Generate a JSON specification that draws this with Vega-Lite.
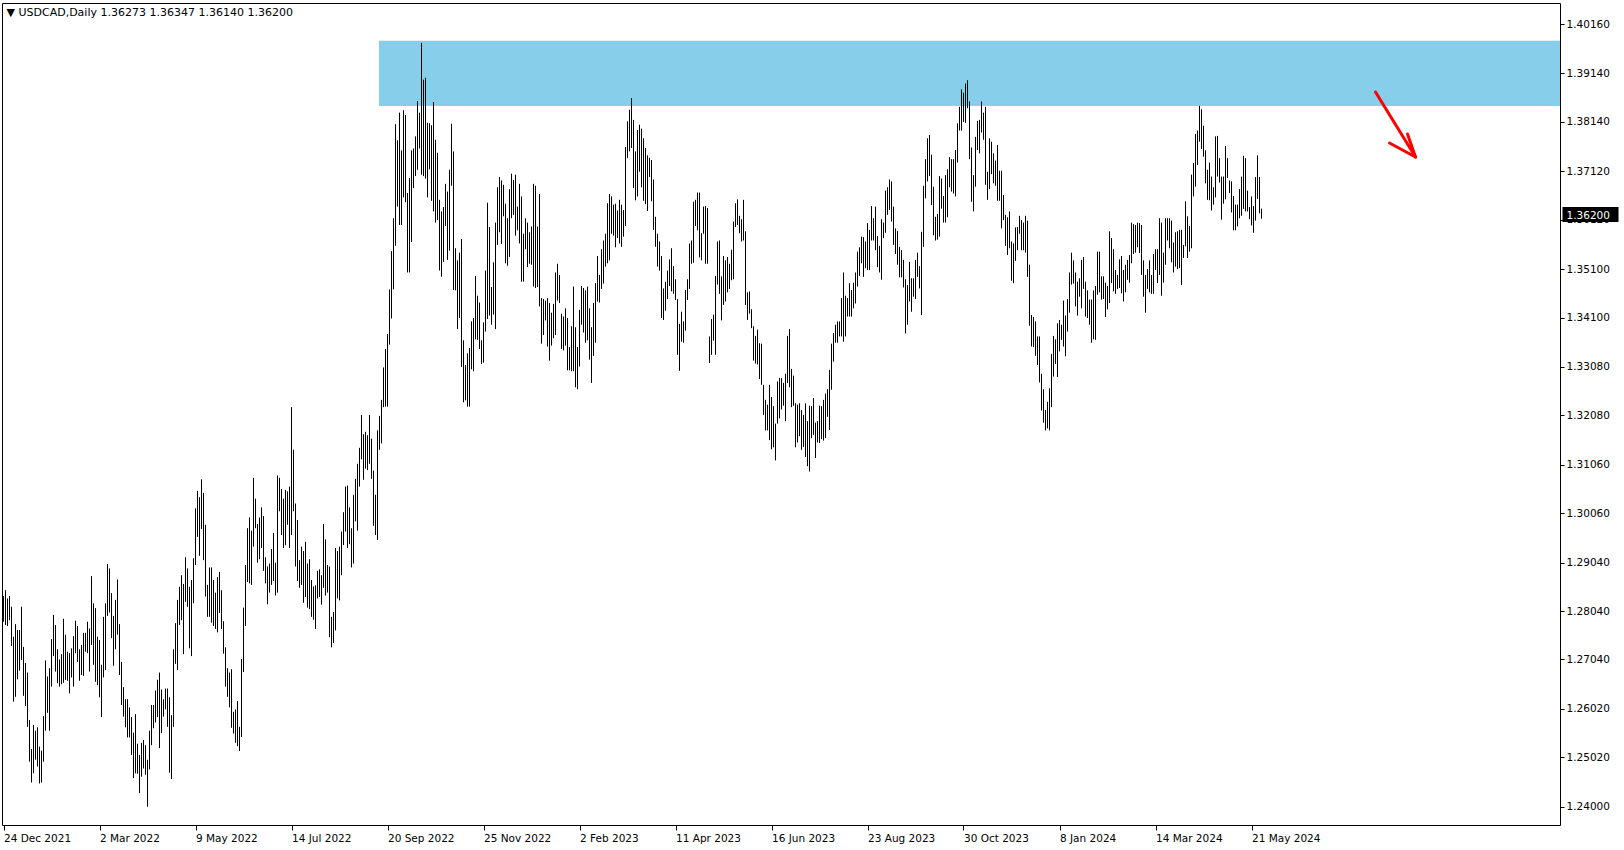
{
"$schema":"https://vega.github.io/schema/vega-lite/v6.json",
"width":1558,"height":822,
"autosize":{"type":"none"},
"padding":{"left":2,"top":3,"right":64,"bottom":25},
"background":"white",
"config":{"view":{"stroke":"black","strokeWidth":1},"font":"DejaVu Sans"},
"encoding":{
"x":{"field":"n","type":"quantitative","scale":{"domain":[0.25,779.25],"nice":false,"zero":false},
"axis":{"orient":"bottom","title":null,"grid":false,"domain":false,"values":[1,49,97,145,193,241,289,337,385,433,481,529,577,625],
"labelExpr":"['24 Dec 2021','2 Mar 2022','9 May 2022','14 Jul 2022','20 Sep 2022','25 Nov 2022','2 Feb 2023','11 Apr 2023','16 Jun 2023','23 Aug 2023','30 Oct 2023','8 Jan 2024','14 Mar 2024','21 May 2024'][(datum.value-1)/48]",
"labelAlign":"left","labelFontSize":10.5,"labelColor":"#000000","tickColor":"#000000","tickSize":5,"labelPadding":3,"labelOverlap":false,"labelFlush":false,"labelBound":false}},
"y":{"field":"l","type":"quantitative","scale":{"domain":[1.236226,1.405936],"nice":false,"zero":false},
"axis":{"orient":"right","title":null,"grid":false,"domain":false,"values":[1.24,1.2502,1.2602,1.2704,1.2804,1.2904,1.3006,1.3106,1.3208,1.3308,1.341,1.351,1.3612,1.3712,1.3814,1.3914,1.4016],
"format":".5f","labelFontSize":10.5,"labelColor":"#000000","tickColor":"#000000","tickSize":4,"labelPadding":2,"labelOverlap":false,"labelBound":false}}
},
"layer":[
{"data":{"values":[{"n":188.75,"n2":779.25,"l":1.38467,"h":1.39815}]},
 "mark":{"type":"rect","color":"#87CEEB","opacity":1},
 "encoding":{"x2":{"field":"n2"},"y2":{"field":"h"}}},
{"data":{"values":[
{"h":1.2835,"l":1.2782},{"h":1.2847,"l":1.2775},{"h":1.2830,"l":1.2773},{"h":1.2835,"l":1.2785},{"h":1.2813,"l":1.2732},
{"h":1.2751,"l":1.2617},{"h":1.2777,"l":1.2627},{"h":1.2765,"l":1.2663},{"h":1.2765,"l":1.2681},{"h":1.2813,"l":1.2703},
{"h":1.2730,"l":1.2629},{"h":1.2697,"l":1.2608},{"h":1.2677,"l":1.2565},{"h":1.2579,"l":1.2493},{"h":1.2519,"l":1.2450},
{"h":1.2569,"l":1.2469},{"h":1.2557,"l":1.2497},{"h":1.2564,"l":1.2483},{"h":1.2524,"l":1.2448},{"h":1.2516,"l":1.2450},
{"h":1.2587,"l":1.2493},{"h":1.2702,"l":1.2557},{"h":1.2669,"l":1.2594},{"h":1.2686,"l":1.2557},{"h":1.2746,"l":1.2648},
{"h":1.2796,"l":1.2711},{"h":1.2775,"l":1.2679},{"h":1.2725,"l":1.2655},{"h":1.2704,"l":1.2648},{"h":1.2715,"l":1.2653},
{"h":1.2788,"l":1.2656},{"h":1.2755,"l":1.2662},{"h":1.2720,"l":1.2660},{"h":1.2717,"l":1.2634},{"h":1.2727,"l":1.2667},
{"h":1.2752,"l":1.2648},{"h":1.2784,"l":1.2717},{"h":1.2773,"l":1.2699},{"h":1.2725,"l":1.2660},{"h":1.2734,"l":1.2672},
{"h":1.2759,"l":1.2670},{"h":1.2759,"l":1.2720},{"h":1.2782,"l":1.2717},{"h":1.2768,"l":1.2679},{"h":1.2876,"l":1.2734},
{"h":1.2820,"l":1.2693},{"h":1.2810,"l":1.2658},{"h":1.2751,"l":1.2651},{"h":1.2744,"l":1.2626},{"h":1.2693,"l":1.2585},
{"h":1.2792,"l":1.2667},{"h":1.2820,"l":1.2682},{"h":1.2901,"l":1.2794},{"h":1.2892,"l":1.2801},{"h":1.2841,"l":1.2748},
{"h":1.2794,"l":1.2691},{"h":1.2827,"l":1.2725},{"h":1.2869,"l":1.2755},{"h":1.2777,"l":1.2672},{"h":1.2699,"l":1.2610},
{"h":1.2647,"l":1.2586},{"h":1.2622,"l":1.2564},{"h":1.2622,"l":1.2543},{"h":1.2605,"l":1.2543},{"h":1.2585,"l":1.2507},
{"h":1.2553,"l":1.2459},{"h":1.2591,"l":1.2469},{"h":1.2530,"l":1.2468},{"h":1.2507,"l":1.2428},{"h":1.2532,"l":1.2462},
{"h":1.2538,"l":1.2479},{"h":1.2527,"l":1.2466},{"h":1.2497,"l":1.2400},{"h":1.2557,"l":1.2477},{"h":1.2610,"l":1.2527},
{"h":1.2610,"l":1.2562},{"h":1.2640,"l":1.2574},{"h":1.2662,"l":1.2585},{"h":1.2677,"l":1.2521},{"h":1.2642,"l":1.2552},
{"h":1.2622,"l":1.2586},{"h":1.2644,"l":1.2601},{"h":1.2644,"l":1.2565},{"h":1.2626,"l":1.2470},{"h":1.2589,"l":1.2457},
{"h":1.2725,"l":1.2565},{"h":1.2779,"l":1.2695},{"h":1.2827,"l":1.2682},{"h":1.2854,"l":1.2775},{"h":1.2878,"l":1.2785},
{"h":1.2860,"l":1.2715},{"h":1.2915,"l":1.2823},{"h":1.2892,"l":1.2813},{"h":1.2854,"l":1.2727},{"h":1.2868,"l":1.2711},
{"h":1.2913,"l":1.2820},{"h":1.3016,"l":1.2899},{"h":1.3052,"l":1.2957},{"h":1.3039,"l":1.2918},{"h":1.3076,"l":1.2973},
{"h":1.3048,"l":1.2909},{"h":1.2982,"l":1.2834},{"h":1.2858,"l":1.2792},{"h":1.2894,"l":1.2792},{"h":1.2894,"l":1.2780},
{"h":1.2868,"l":1.2773},{"h":1.2842,"l":1.2767},{"h":1.2874,"l":1.2760},{"h":1.2885,"l":1.2800},{"h":1.2847,"l":1.2767},
{"h":1.2783,"l":1.2716},{"h":1.2729,"l":1.2648},{"h":1.2686,"l":1.2627},{"h":1.2677,"l":1.2605},{"h":1.2684,"l":1.2563},
{"h":1.2596,"l":1.2551},{"h":1.2601,"l":1.2532},{"h":1.2618,"l":1.2525},{"h":1.2565,"l":1.2515},{"h":1.2705,"l":1.2544},
{"h":1.2811,"l":1.2678},{"h":1.2899,"l":1.2773},{"h":1.2975,"l":1.2864},{"h":1.2997,"l":1.2861},{"h":1.2970,"l":1.2858},
{"h":1.3079,"l":1.2937},{"h":1.3036,"l":1.2975},{"h":1.2984,"l":1.2904},{"h":1.2997,"l":1.2911},{"h":1.3018,"l":1.2934},
{"h":1.3000,"l":1.2887},{"h":1.2915,"l":1.2861},{"h":1.2896,"l":1.2818},{"h":1.2902,"l":1.2842},{"h":1.2932,"l":1.2858},
{"h":1.2965,"l":1.2866},{"h":1.2904,"l":1.2836},{"h":1.3084,"l":1.2842},{"h":1.3079,"l":1.3010},{"h":1.3056,"l":1.2961},
{"h":1.3036,"l":1.2934},{"h":1.3054,"l":1.2940},{"h":1.3051,"l":1.2982},{"h":1.3061,"l":1.2934},{"h":1.3225,"l":1.2961},
{"h":1.3137,"l":1.3010},{"h":1.3026,"l":1.2896},{"h":1.2992,"l":1.2866},{"h":1.2909,"l":1.2852},{"h":1.2937,"l":1.2858},
{"h":1.2928,"l":1.2821},{"h":1.2947,"l":1.2833},{"h":1.2902,"l":1.2811},{"h":1.2911,"l":1.2808},{"h":1.2868,"l":1.2792},
{"h":1.2855,"l":1.2786},{"h":1.2857,"l":1.2767},{"h":1.2887,"l":1.2830},{"h":1.2890,"l":1.2833},{"h":1.2878,"l":1.2817},
{"h":1.2984,"l":1.2852},{"h":1.2952,"l":1.2836},{"h":1.2899,"l":1.2842},{"h":1.2896,"l":1.2750},{"h":1.2792,"l":1.2729},
{"h":1.2802,"l":1.2738},{"h":1.2934,"l":1.2764},{"h":1.2928,"l":1.2830},{"h":1.2937,"l":1.2826},{"h":1.2968,"l":1.2878},
{"h":1.3008,"l":1.2940},{"h":1.3061,"l":1.2968},{"h":1.3063,"l":1.2934},{"h":1.3018,"l":1.2942},{"h":1.2975,"l":1.2894},
{"h":1.3044,"l":1.2902},{"h":1.3077,"l":1.2989},{"h":1.3108,"l":1.2970},{"h":1.3141,"l":1.3061},{"h":1.3209,"l":1.3117},
{"h":1.3169,"l":1.3075},{"h":1.3174,"l":1.3098},{"h":1.3167,"l":1.3095},{"h":1.3209,"l":1.3108},{"h":1.3160,"l":1.3077},
{"h":1.3094,"l":1.2980},{"h":1.3044,"l":1.2961},{"h":1.3177,"l":1.2951},{"h":1.3207,"l":1.3137},{"h":1.3240,"l":1.3150},
{"h":1.3307,"l":1.3225},{"h":1.3345,"l":1.3226},{"h":1.3376,"l":1.3226},{"h":1.3468,"l":1.3354},{"h":1.3547,"l":1.3408},
{"h":1.3615,"l":1.3468},{"h":1.3809,"l":1.3558},{"h":1.3776,"l":1.3639},{"h":1.3833,"l":1.3601},{"h":1.3755,"l":1.3601},
{"h":1.3838,"l":1.3658},{"h":1.3828,"l":1.3648},{"h":1.3667,"l":1.3503},{"h":1.3698,"l":1.3503},{"h":1.3755,"l":1.3566},
{"h":1.3759,"l":1.3677},{"h":1.3784,"l":1.3702},{"h":1.3857,"l":1.3715},{"h":1.3833,"l":1.3759},{"h":1.3977,"l":1.3705},
{"h":1.3901,"l":1.3702},{"h":1.3905,"l":1.3697},{"h":1.3812,"l":1.3658},{"h":1.3811,"l":1.3716},{"h":1.3807,"l":1.3651},
{"h":1.3855,"l":1.3629},{"h":1.3777,"l":1.3606},{"h":1.3750,"l":1.3611},{"h":1.3653,"l":1.3507},{"h":1.3629,"l":1.3494},
{"h":1.3638,"l":1.3525},{"h":1.3686,"l":1.3599},{"h":1.3670,"l":1.3529},{"h":1.3715,"l":1.3548},{"h":1.3810,"l":1.3682},
{"h":1.3753,"l":1.3467},{"h":1.3553,"l":1.3466},{"h":1.3528,"l":1.3386},{"h":1.3544,"l":1.3409},{"h":1.3572,"l":1.3308},
{"h":1.3363,"l":1.3235},{"h":1.3312,"l":1.3239},{"h":1.3336,"l":1.3226},{"h":1.3347,"l":1.3226},{"h":1.3402,"l":1.3303},
{"h":1.3409,"l":1.3299},{"h":1.3496,"l":1.3365},{"h":1.3455,"l":1.3364},{"h":1.3441,"l":1.3345},{"h":1.3363,"l":1.3314},
{"h":1.3400,"l":1.3317},{"h":1.3507,"l":1.3381},{"h":1.3647,"l":1.3407},{"h":1.3597,"l":1.3414},{"h":1.3473,"l":1.3395},
{"h":1.3524,"l":1.3416},{"h":1.3606,"l":1.3386},{"h":1.3679,"l":1.3560},{"h":1.3700,"l":1.3586},{"h":1.3693,"l":1.3562},
{"h":1.3684,"l":1.3619},{"h":1.3645,"l":1.3522},{"h":1.3615,"l":1.3517},{"h":1.3675,"l":1.3535},{"h":1.3707,"l":1.3615},
{"h":1.3694,"l":1.3622},{"h":1.3705,"l":1.3579},{"h":1.3639,"l":1.3590},{"h":1.3686,"l":1.3563},{"h":1.3660,"l":1.3484},
{"h":1.3583,"l":1.3484},{"h":1.3615,"l":1.3551},{"h":1.3606,"l":1.3514},{"h":1.3586,"l":1.3521},{"h":1.3598,"l":1.3519},
{"h":1.3686,"l":1.3474},{"h":1.3682,"l":1.3471},{"h":1.3598,"l":1.3473},{"h":1.3665,"l":1.3433},{"h":1.3450,"l":1.3356},
{"h":1.3448,"l":1.3374},{"h":1.3445,"l":1.3404},{"h":1.3450,"l":1.3350},{"h":1.3440,"l":1.3321},{"h":1.3420,"l":1.3352},
{"h":1.3438,"l":1.3367},{"h":1.3503,"l":1.3374},{"h":1.3521,"l":1.3445},{"h":1.3498,"l":1.3440},{"h":1.3418,"l":1.3345},
{"h":1.3412,"l":1.3342},{"h":1.3429,"l":1.3352},{"h":1.3409,"l":1.3301},{"h":1.3349,"l":1.3301},{"h":1.3392,"l":1.3299},
{"h":1.3474,"l":1.3299},{"h":1.3390,"l":1.3266},{"h":1.3349,"l":1.3262},{"h":1.3426,"l":1.3309},{"h":1.3475,"l":1.3395},
{"h":1.3471,"l":1.3379},{"h":1.3466,"l":1.3358},{"h":1.3474,"l":1.3363},{"h":1.3429,"l":1.3323},{"h":1.3390,"l":1.3275},
{"h":1.3440,"l":1.3331},{"h":1.3481,"l":1.3358},{"h":1.3537,"l":1.3443},{"h":1.3498,"l":1.3441},{"h":1.3551,"l":1.3469},
{"h":1.3569,"l":1.3480},{"h":1.3583,"l":1.3515},{"h":1.3646,"l":1.3522},{"h":1.3665,"l":1.3528},{"h":1.3660,"l":1.3583},
{"h":1.3643,"l":1.3579},{"h":1.3645,"l":1.3555},{"h":1.3631,"l":1.3574},{"h":1.3653,"l":1.3563},{"h":1.3643,"l":1.3556},
{"h":1.3632,"l":1.3577},{"h":1.3762,"l":1.3599},{"h":1.3815,"l":1.3739},{"h":1.3839,"l":1.3753},{"h":1.3863,"l":1.3760},
{"h":1.3818,"l":1.3677},{"h":1.3753,"l":1.3652},{"h":1.3797,"l":1.3660},{"h":1.3808,"l":1.3711},{"h":1.3800,"l":1.3679},
{"h":1.3780,"l":1.3651},{"h":1.3760,"l":1.3644},{"h":1.3745,"l":1.3630},{"h":1.3740,"l":1.3700},{"h":1.3735,"l":1.3650},
{"h":1.3695,"l":1.3591},{"h":1.3618,"l":1.3556},{"h":1.3583,"l":1.3515},{"h":1.3567,"l":1.3507},{"h":1.3537,"l":1.3409},
{"h":1.3470,"l":1.3405},{"h":1.3484,"l":1.3424},{"h":1.3507,"l":1.3448},{"h":1.3530,"l":1.3475},{"h":1.3553,"l":1.3464},
{"h":1.3516,"l":1.3459},{"h":1.3489,"l":1.3446},{"h":1.3448,"l":1.3333},{"h":1.3397,"l":1.3300},{"h":1.3422,"l":1.3360},
{"h":1.3402,"l":1.3358},{"h":1.3467,"l":1.3383},{"h":1.3489,"l":1.3446},{"h":1.3563,"l":1.3469},{"h":1.3569,"l":1.3521},
{"h":1.3649,"l":1.3523},{"h":1.3653,"l":1.3599},{"h":1.3668,"l":1.3590},{"h":1.3668,"l":1.3534},{"h":1.3584,"l":1.3528},
{"h":1.3639,"l":1.3583},{"h":1.3640,"l":1.3521},{"h":1.3636,"l":1.3521},{"h":1.3371,"l":1.3316},{"h":1.3407,"l":1.3333},
{"h":1.3416,"l":1.3362},{"h":1.3496,"l":1.3333},{"h":1.3567,"l":1.3478},{"h":1.3569,"l":1.3459},{"h":1.3495,"l":1.3404},
{"h":1.3537,"l":1.3436},{"h":1.3528,"l":1.3443},{"h":1.3535,"l":1.3462},{"h":1.3521,"l":1.3469},{"h":1.3550,"l":1.3487},
{"h":1.3608,"l":1.3489},{"h":1.3646,"l":1.3597},{"h":1.3654,"l":1.3601},{"h":1.3620,"l":1.3584},{"h":1.3613,"l":1.3567},
{"h":1.3653,"l":1.3569},{"h":1.3588,"l":1.3436},{"h":1.3462,"l":1.3405},{"h":1.3464,"l":1.3418},{"h":1.3427,"l":1.3388},
{"h":1.3392,"l":1.3321},{"h":1.3372,"l":1.3315},{"h":1.3385,"l":1.3313},{"h":1.3357,"l":1.3283},{"h":1.3356,"l":1.3271},
{"h":1.3271,"l":1.3209},{"h":1.3240,"l":1.3177},{"h":1.3230,"l":1.3177},{"h":1.3271,"l":1.3157},{"h":1.3246,"l":1.3138},
{"h":1.3227,"l":1.3142},{"h":1.3191,"l":1.3115},{"h":1.3278,"l":1.3191},{"h":1.3285,"l":1.3202},{"h":1.3285,"l":1.3220},
{"h":1.3275,"l":1.3228},{"h":1.3294,"l":1.3196},{"h":1.3372,"l":1.3275},{"h":1.3386,"l":1.3266},{"h":1.3304,"l":1.3225},
{"h":1.3290,"l":1.3228},{"h":1.3233,"l":1.3142},{"h":1.3230,"l":1.3152},{"h":1.3233,"l":1.3165},{"h":1.3219,"l":1.3137},
{"h":1.3209,"l":1.3143},{"h":1.3233,"l":1.3122},{"h":1.3196,"l":1.3103},{"h":1.3228,"l":1.3092},{"h":1.3227,"l":1.3161},
{"h":1.3244,"l":1.3168},{"h":1.3193,"l":1.3120},{"h":1.3196,"l":1.3152},{"h":1.3228,"l":1.3151},{"h":1.3227,"l":1.3159},
{"h":1.3240,"l":1.3156},{"h":1.3253,"l":1.3161},{"h":1.3262,"l":1.3205},{"h":1.3302,"l":1.3178},{"h":1.3356,"l":1.3261},
{"h":1.3378,"l":1.3319},{"h":1.3395,"l":1.3358},{"h":1.3402,"l":1.3358},{"h":1.3402,"l":1.3371},{"h":1.3450,"l":1.3371},
{"h":1.3503,"l":1.3360},{"h":1.3455,"l":1.3371},{"h":1.3450,"l":1.3412},{"h":1.3481,"l":1.3412},{"h":1.3467,"l":1.3412},
{"h":1.3482,"l":1.3429},{"h":1.3503,"l":1.3439},{"h":1.3546,"l":1.3474},{"h":1.3555,"l":1.3496},{"h":1.3577,"l":1.3522},
{"h":1.3576,"l":1.3494},{"h":1.3567,"l":1.3512},{"h":1.3605,"l":1.3508},{"h":1.3591,"l":1.3508},{"h":1.3640,"l":1.3569},
{"h":1.3615,"l":1.3569},{"h":1.3639,"l":1.3549},{"h":1.3578,"l":1.3514},{"h":1.3558,"l":1.3503},{"h":1.3613,"l":1.3488},
{"h":1.3606,"l":1.3574},{"h":1.3672,"l":1.3585},{"h":1.3679,"l":1.3622},{"h":1.3695,"l":1.3632},{"h":1.3691,"l":1.3608},
{"h":1.3639,"l":1.3560},{"h":1.3594,"l":1.3541},{"h":1.3589,"l":1.3519},{"h":1.3556,"l":1.3493},{"h":1.3549,"l":1.3493},
{"h":1.3529,"l":1.3472},{"h":1.3489,"l":1.3377},{"h":1.3477,"l":1.3395},{"h":1.3525,"l":1.3443},{"h":1.3491,"l":1.3422},
{"h":1.3491,"l":1.3453},{"h":1.3529,"l":1.3448},{"h":1.3544,"l":1.3494},{"h":1.3516,"l":1.3470},{"h":1.3587,"l":1.3415},
{"h":1.3682,"l":1.3556},{"h":1.3737,"l":1.3656},{"h":1.3780,"l":1.3691},{"h":1.3787,"l":1.3702},{"h":1.3746,"l":1.3642},
{"h":1.3680,"l":1.3580},{"h":1.3618,"l":1.3569},{"h":1.3624,"l":1.3571},{"h":1.3702,"l":1.3577},{"h":1.3697,"l":1.3635},
{"h":1.3661,"l":1.3606},{"h":1.3704,"l":1.3606},{"h":1.3716,"l":1.3617},{"h":1.3741,"l":1.3679},{"h":1.3737,"l":1.3670},
{"h":1.3737,"l":1.3666},{"h":1.3756,"l":1.3660},{"h":1.3811,"l":1.3730},{"h":1.3845,"l":1.3796},{"h":1.3881,"l":1.3796},
{"h":1.3874,"l":1.3814},{"h":1.3893,"l":1.3812},{"h":1.3900,"l":1.3842},{"h":1.3856,"l":1.3737},{"h":1.3761,"l":1.3649},
{"h":1.3704,"l":1.3629},{"h":1.3783,"l":1.3680},{"h":1.3816,"l":1.3756},{"h":1.3818,"l":1.3749},{"h":1.3856,"l":1.3792},
{"h":1.3833,"l":1.3777},{"h":1.3845,"l":1.3684},{"h":1.3711,"l":1.3653},{"h":1.3780,"l":1.3675},{"h":1.3773,"l":1.3706},
{"h":1.3749,"l":1.3687},{"h":1.3734,"l":1.3682},{"h":1.3766,"l":1.3651},{"h":1.3713,"l":1.3651},{"h":1.3713,"l":1.3594},
{"h":1.3663,"l":1.3611},{"h":1.3622,"l":1.3558},{"h":1.3617,"l":1.3539},{"h":1.3629,"l":1.3553},{"h":1.3567,"l":1.3486},
{"h":1.3563,"l":1.3481},{"h":1.3596,"l":1.3527},{"h":1.3597,"l":1.3549},{"h":1.3620,"l":1.3583},{"h":1.3611,"l":1.3549},
{"h":1.3606,"l":1.3549},{"h":1.3620,"l":1.3544},{"h":1.3610,"l":1.3494},{"h":1.3519,"l":1.3393},{"h":1.3415,"l":1.3350},
{"h":1.3411,"l":1.3349},{"h":1.3402,"l":1.3331},{"h":1.3371,"l":1.3312},{"h":1.3371,"l":1.3276},{"h":1.3294,"l":1.3218},
{"h":1.3262,"l":1.3193},{"h":1.3219,"l":1.3177},{"h":1.3236,"l":1.3181},{"h":1.3264,"l":1.3177},{"h":1.3335,"l":1.3225},
{"h":1.3372,"l":1.3288},{"h":1.3365,"l":1.3314},{"h":1.3398,"l":1.3287},{"h":1.3405,"l":1.3340},{"h":1.3395,"l":1.3364},
{"h":1.3445,"l":1.3350},{"h":1.3414,"l":1.3330},{"h":1.3448,"l":1.3381},{"h":1.3503,"l":1.3420},{"h":1.3544,"l":1.3478},
{"h":1.3528,"l":1.3480},{"h":1.3503,"l":1.3433},{"h":1.3484,"l":1.3414},{"h":1.3491,"l":1.3453},{"h":1.3529,"l":1.3429},
{"h":1.3535,"l":1.3469},{"h":1.3484,"l":1.3412},{"h":1.3466,"l":1.3409},{"h":1.3447,"l":1.3395},{"h":1.3447,"l":1.3358},
{"h":1.3466,"l":1.3365},{"h":1.3475,"l":1.3364},{"h":1.3546,"l":1.3457},{"h":1.3546,"l":1.3462},{"h":1.3495,"l":1.3447},
{"h":1.3495,"l":1.3448},{"h":1.3482,"l":1.3411},{"h":1.3475,"l":1.3427},{"h":1.3588,"l":1.3440},{"h":1.3574,"l":1.3481},
{"h":1.3551,"l":1.3464},{"h":1.3508,"l":1.3459},{"h":1.3498,"l":1.3469},{"h":1.3530,"l":1.3471},{"h":1.3537,"l":1.3460},
{"h":1.3508,"l":1.3443},{"h":1.3519,"l":1.3462},{"h":1.3529,"l":1.3488},{"h":1.3539,"l":1.3482},{"h":1.3606,"l":1.3522},
{"h":1.3603,"l":1.3541},{"h":1.3601,"l":1.3544},{"h":1.3606,"l":1.3555},{"h":1.3605,"l":1.3543},{"h":1.3601,"l":1.3498},
{"h":1.3528,"l":1.3453},{"h":1.3498,"l":1.3420},{"h":1.3510,"l":1.3469},{"h":1.3528,"l":1.3462},{"h":1.3498,"l":1.3459},
{"h":1.3541,"l":1.3459},{"h":1.3551,"l":1.3508},{"h":1.3551,"l":1.3481},{"h":1.3615,"l":1.3498},{"h":1.3606,"l":1.3455},
{"h":1.3544,"l":1.3482},{"h":1.3615,"l":1.3519},{"h":1.3615,"l":1.3569},{"h":1.3615,"l":1.3553},{"h":1.3610,"l":1.3524},
{"h":1.3565,"l":1.3503},{"h":1.3586,"l":1.3515},{"h":1.3588,"l":1.3510},{"h":1.3591,"l":1.3512},{"h":1.3591,"l":1.3477},
{"h":1.3560,"l":1.3533},{"h":1.3650,"l":1.3557},{"h":1.3619,"l":1.3533},{"h":1.3599,"l":1.3546},{"h":1.3705,"l":1.3553},
{"h":1.3729,"l":1.3660},{"h":1.3789,"l":1.3680},{"h":1.3796,"l":1.3725},{"h":1.3847,"l":1.3773},{"h":1.3840,"l":1.3758},
{"h":1.3806,"l":1.3742},{"h":1.3755,"l":1.3687},{"h":1.3715,"l":1.3653},{"h":1.3730,"l":1.3652},{"h":1.3701,"l":1.3631},
{"h":1.3679,"l":1.3643},{"h":1.3784,"l":1.3658},{"h":1.3785,"l":1.3701},{"h":1.3739,"l":1.3689},{"h":1.3701,"l":1.3612},
{"h":1.3701,"l":1.3645},{"h":1.3764,"l":1.3654},{"h":1.3739,"l":1.3698},{"h":1.3693,"l":1.3667},{"h":1.3691,"l":1.3627},
{"h":1.3661,"l":1.3590},{"h":1.3643,"l":1.3590},{"h":1.3643,"l":1.3598},{"h":1.3675,"l":1.3615},{"h":1.3701,"l":1.3620},
{"h":1.3744,"l":1.3634},{"h":1.3739,"l":1.3629},{"h":1.3672,"l":1.3629},{"h":1.3638,"l":1.3613},{"h":1.3660,"l":1.3600},
{"h":1.3640,"l":1.3585},{"h":1.3700,"l":1.3610},{"h":1.3745,"l":1.3655},{"h":1.3700,"l":1.3625},{"h":1.36347,"l":1.3614}
]},
 "transform":[{"window":[{"op":"row_number","as":"n"}]}],
 "mark":{"type":"rule","color":"#000000","strokeWidth":1},
 "encoding":{"y2":{"field":"h"}}},
{"data":{"values":[
{"n":687,"l":1.38756,"n2":707,"l2":1.37414},
{"n":694,"l":1.37703,"n2":707,"l2":1.37414},
{"n":703,"l":1.37889,"n2":707,"l2":1.37414}]},
 "mark":{"type":"rule","color":"#FF0000","strokeWidth":3,"strokeCap":"round"},
 "encoding":{"x2":{"field":"n2"},"y2":{"field":"l2"}}},
{"data":{"values":[{"n":780.5,"n2":808.5,"l":1.36072,"h":1.36382}]},
 "mark":{"type":"rect","color":"#000000","clip":false},
 "encoding":{"x2":{"field":"n2"},"y2":{"field":"h"}}},
{"data":{"values":[{"n":782.5,"l":1.362,"t":"1.36200"}]},
 "mark":{"type":"text","color":"#FFFFFF","align":"left","baseline":"middle","fontSize":10.5,"font":"DejaVu Sans","clip":false},
 "encoding":{"text":{"field":"t"}}},
{"data":{"values":[{"n":2.5,"l":1.40315,"t":"▼  USDCAD,Daily  1.36273 1.36347 1.36140 1.36200"}]},
 "mark":{"type":"text","color":"#000000","align":"left","baseline":"alphabetic","fontSize":11,"font":"DejaVu Sans"},
 "encoding":{"text":{"field":"t"}}}
]
}
